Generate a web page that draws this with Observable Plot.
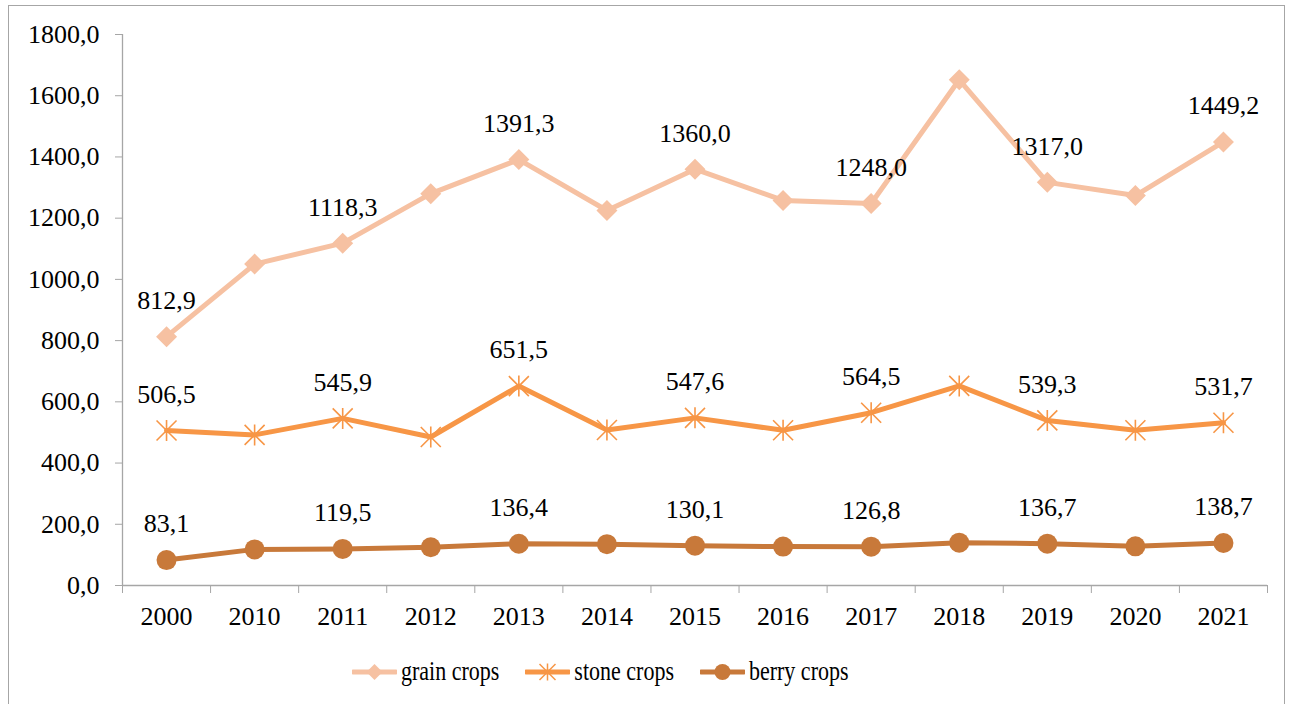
<!DOCTYPE html>
<html><head><meta charset="utf-8">
<script src="https://cdn.jsdelivr.net/npm/d3@7"></script>
<script src="https://cdn.jsdelivr.net/npm/@observablehq/plot@0.6"></script>
<style>
html,body{margin:0;padding:0;background:#fff;overflow:hidden;width:1293px;height:704px;}
body{font-family:"Liberation Serif","Times New Roman",serif;position:relative;}
#frame{position:absolute;left:8px;top:5px;width:1277px;height:740px;border:1px solid #a6a6a6;box-sizing:border-box;}
#chart{position:absolute;left:0;top:0;}
#legend{position:absolute;left:352px;top:659px;display:flex;gap:26px;align-items:center;font-size:22px;color:#000;}
.item{display:flex;align-items:center;gap:4px;}
.item span{display:inline-block;transform:scale(1,1.2);transform-origin:50% 55%;}
</style></head>
<body>
<div id="frame"></div>
<div id="chart"></div>
<div id="legend"></div>
<script>
const years = ["2000","2010","2011","2012","2013","2014","2015","2016","2017","2018","2019","2020","2021"];
const grain = [812.9, 1050, 1118.3, 1280, 1391.3, 1225, 1360.0, 1258, 1248.0, 1652, 1317.0, 1274, 1449.2];
const stone = [506.5, 492, 545.9, 485, 651.5, 508, 547.6, 507, 564.5, 652, 539.3, 507, 531.7];
const berry = [83.1, 118, 119.5, 125, 136.4, 135, 130.1, 127, 126.8, 140, 136.7, 128, 138.7];
const labeledYears = ["2000","2011","2013","2015","2017","2019","2021"];
const seriesNames = ["grain crops","stone crops","berry crops"];
const seriesColors = ["#F6C1A2","#F79646","#C8793A"];
const yTicks = [0,200,400,600,800,1000,1200,1400,1600,1800];

const fmt = v => v.toFixed(1).replace(".", ",");
const series = [grain, stone, berry];
const rows = series.map((vals, s) => vals.map((v, i) => ({i, year: years[i], value: v, s})));
const labelRows = rows.map(r => r.filter(d => labeledYears.includes(d.year)));

const diamond = {draw(ctx, size){const h = Math.sqrt(size/Math.PI); ctx.moveTo(0,-h); ctx.lineTo(h,0); ctx.lineTo(0,h); ctx.lineTo(-h,0); ctx.closePath();}};
const star = {draw(ctx, size){const h = Math.sqrt(size/Math.PI); ctx.moveTo(-h,-h); ctx.lineTo(h,h); ctx.moveTo(-h,h); ctx.lineTo(h,-h); ctx.moveTo(0,-h*1.05); ctx.lineTo(0,h*1.05);}};

const seriesMarks = [];
rows.forEach((r, s) => {
  seriesMarks.push(Plot.line(r, {x: "i", y: "value", stroke: seriesColors[s], strokeWidth: 5, strokeLinejoin: "round"}));
});
seriesMarks.push(Plot.dot(rows[0], {x: "i", y: "value", symbol: diamond, r: 10.5, fill: seriesColors[0], stroke: "none"}));
seriesMarks.push(Plot.dot(rows[1], {x: "i", y: "value", symbol: star, r: 10, fill: "none", stroke: seriesColors[1], strokeWidth: 1.6}));
seriesMarks.push(Plot.dot(rows[2], {x: "i", y: "value", symbol: "circle", r: 10, fill: seriesColors[2], stroke: "none"}));
labelRows.forEach(r => {
  seriesMarks.push(Plot.text(r, {x: "i", y: "value", text: d => fmt(d.value), dy: -36, fill: "#000", fontSize: 26}));
});

const idx = d3.range(years.length);
const bounds = d3.range(years.length + 1).map(i => i - 0.5);

const chart = Plot.plot({
  width: 1293, height: 640,
  marginLeft: 122, marginRight: 26, marginTop: 34, marginBottom: 55,
  x: {domain: [-0.5, years.length - 0.5]},
  y: {domain: [0, 1800]},
  style: {fontFamily: "'Liberation Serif', 'Times New Roman', serif", fontSize: "26px", color: "#000", background: "transparent"},
  marks: [
    Plot.axisY({ticks: yTicks, tickSize: 7, tickPadding: 16, tickFormat: fmt, stroke: "#a6a6a6", fill: "#000", label: null}),
    Plot.axisX({ticks: bounds, tickSize: 8, tickFormat: () => "", stroke: "#a6a6a6", label: null}),
    Plot.axisX({ticks: idx, tickSize: 0, tickPadding: 21, tickFormat: i => years[i], fill: "#000", label: null}),
    Plot.ruleY([0], {stroke: "#a6a6a6", strokeWidth: 1.3}),
    Plot.ruleX([-0.5], {stroke: "#a6a6a6", strokeWidth: 1.3}),
    ...seriesMarks
  ]
});
document.getElementById("chart").appendChild(chart);

// legend
const legend = d3.select("#legend");
const legendSymbols = [diamond, star, d3.symbolCircle];
seriesNames.forEach((name, s) => {
  const item = legend.append("div").attr("class", "item");
  const svg = item.append("svg").attr("width", 45).attr("height", 24);
  svg.append("line").attr("x1", 1).attr("x2", 44).attr("y1", 12).attr("y2", 12)
    .attr("stroke", seriesColors[s]).attr("stroke-width", 5).attr("stroke-linecap", "round");
  const sym = svg.append("path").attr("transform", "translate(22.5,12)")
    .attr("d", d3.symbol(legendSymbols[s], Math.PI * 8 * 8)());
  if (s === 1) sym.attr("fill", "none").attr("stroke", seriesColors[s]).attr("stroke-width", 1.5);
  else sym.attr("fill", seriesColors[s]);
  item.append("span").text(name);
});
</script>
</body></html>
